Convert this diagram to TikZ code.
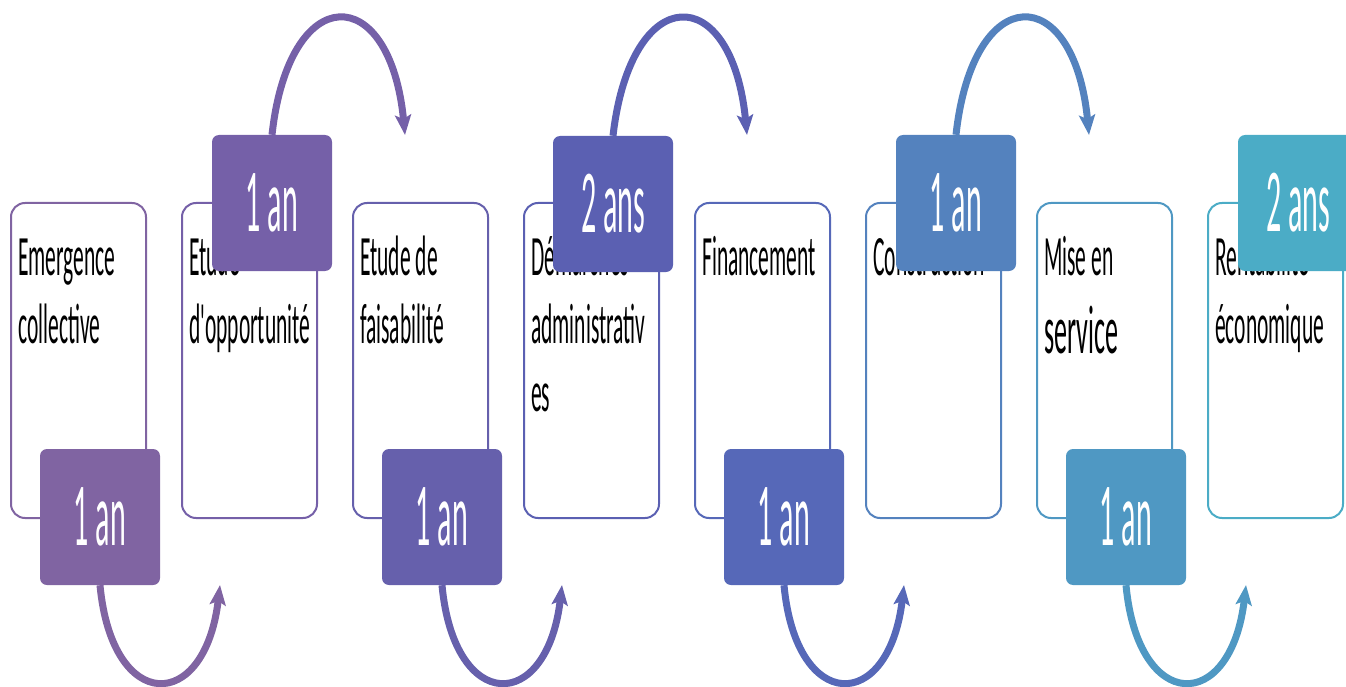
\documentclass[tikz,border=0pt]{standalone}
\usepackage{fontspec}
\setmainfont{Carlito}
\usetikzlibrary{arrows.meta}
\definecolor{c1}{HTML}{8064A2}
\definecolor{c2}{HTML}{7560A8}
\definecolor{c3}{HTML}{6660AC}
\definecolor{c4}{HTML}{5B60B2}
\definecolor{c5}{HTML}{5668B8}
\definecolor{c6}{HTML}{5482BE}
\definecolor{c7}{HTML}{4F98C3}
\definecolor{c8}{HTML}{4BACC6}
\newcommand{\lines}[1]{\scalebox{1}[2.65]{\begin{tabular}[t]{@{}l@{}}#1\end{tabular}}}
\newcommand{\dur}[1]{\scalebox{1}[3.0]{#1}}
\begin{document}
\begin{tikzpicture}[x=1pt,y=-1pt,
  stepbox/.style={draw, line width=2pt, fill=white, rounded corners=14pt,
    minimum width=135pt, minimum height=315pt, inner sep=0pt},
  durbox/.style={fill, rounded corners=7pt, minimum width=120pt,
    minimum height=136pt, inner sep=0pt, text=white,
    font=\fontsize{30}{36}\selectfont},
  lbl/.style={anchor=base west, inner sep=0pt, text=black,
    font=\fontsize{21.5}{25.8}\selectfont},
  arc/.style={line width=7pt, -{Stealth[length=20pt,width=16pt,inset=4pt]}}]
\useasboundingbox (0,0) rectangle (1346,687);

% step boxes
\node[stepbox, draw=c1] (b1) at (78.5,360.5) {};
\node[stepbox, draw=c2] (b2) at (249.5,360.5) {};
\node[stepbox, draw=c3] (b3) at (420.5,360.5) {};
\node[stepbox, draw=c4] (b4) at (591.5,360.5) {};
\node[stepbox, draw=c5] (b5) at (762.5,360.5) {};
\node[stepbox, draw=c6] (b6) at (933.5,360.5) {};
\node[stepbox, draw=c7] (b7) at (1104.5,360.5) {};
\node[stepbox, draw=c8] (b8) at (1275.5,360.5) {};

% labels
\node[lbl] (t1) at (18,275) {\lines{Emergence\\collective}};
\node[lbl] (t2) at (189,275) {\lines{Etude\\d\textquotesingle opportunité}};
\node[lbl] (t3) at (360,275) {\lines{Etude de\\faisabilité}};
\node[lbl] (t4) at (531,275) {\lines{Démarches\\administrativ\\es}};
\node[lbl] (t5) at (702,275) {\lines{Financement}};
\node[lbl] (t6) at (873,275) {\lines{Construction}};
\node[lbl] (t7) at (1044,275) {\lines{Mise en\\[4pt]{\fontsize{26}{30}\selectfont service}}};
\node[lbl] (t8) at (1215,275) {\lines{Rentabilité\\économique}};

% arc end points
\coordinate (e1) at (220,585);
\coordinate (e2) at (405,135);
\coordinate (e3) at (562,585);
\coordinate (e4) at (747,135);
\coordinate (e5) at (904,585);
\coordinate (e6) at (1089,135);
\coordinate (e7) at (1246,585);

% duration boxes
\node[durbox, fill=c1] (d1) at (100,517) {\dur{1 an}};
\node[durbox, fill=c2] (d2) at (272,203) {\dur{1 an}};
\node[durbox, fill=c3] (d3) at (442,517) {\dur{1 an}};
\node[durbox, fill=c4] (d4) at (613,204) {\dur{2 ans}};
\node[durbox, fill=c5] (d5) at (784,517) {\dur{1 an}};
\node[durbox, fill=c6] (d6) at (956,203) {\dur{1 an}};
\node[durbox, fill=c7] (d7) at (1126,517) {\dur{1 an}};
\node[durbox, fill=c8] (d8) at (1298,203) {\dur{2 ans}};

% arcs
\draw[arc, c1] (d1.south) .. controls (112,714) and (205,714) .. (e1);
\draw[arc, c2] (d2.north) .. controls (289,-20) and (390,-20) .. (e2);
\draw[arc, c3] (d3.south) .. controls (454,714) and (547,714) .. (e3);
\draw[arc, c4] (d4.north) .. controls (631,-20) and (732,-20) .. (e4);
\draw[arc, c5] (d5.south) .. controls (796,714) and (889,714) .. (e5);
\draw[arc, c6] (d6.north) .. controls (973,-20) and (1074,-20) .. (e6);
\draw[arc, c7] (d7.south) .. controls (1138,714) and (1231,714) .. (e7);
\end{tikzpicture}
\end{document}
